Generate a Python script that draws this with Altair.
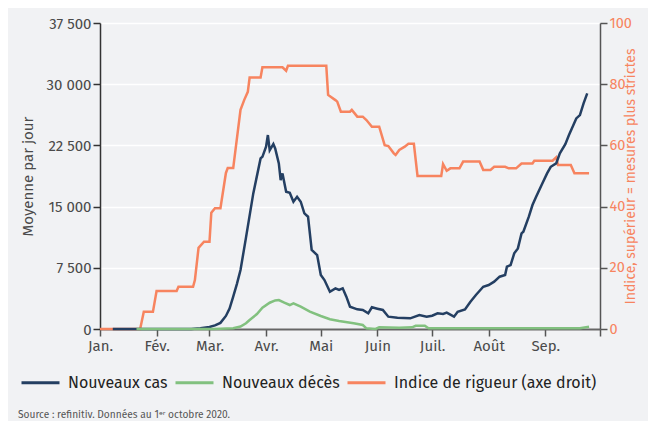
import altair as alt
import pandas as pd

# ---------------- data ----------------
SERIES = ["Nouveaux cas", "Nouveaux décès", "Indice de rigueur (axe droit)"]
COLORS = ["#243f62", "#82c17f", "#f7845f"]
MONTH_LABELS = ["Jan.", "Fév.", "Mar.", "Avr.", "Mai", "Juin", "Juil.", "Août", "Sep.", ""]
LEFT_TICKS = [0, 7500, 15000, 22500, 30000, 37500]
RIGHT_TICKS = [0, 20, 40, 60, 80, 100]
SOURCE = "Source : refinitiv. Données au 1ᵉʳ octobre 2020."

# days since 1 January 2020
cas_days = [7, 50, 55, 60, 63, 66, 69, 71, 73, 75, 77, 80, 84, 88, 89, 91, 92, 93, 95, 96,
            98, 99, 100, 102, 104, 106, 108, 110, 112, 114, 116, 119, 121, 123, 126, 129,
            131, 133, 135, 137, 141, 144, 147, 149, 152, 155, 158, 163, 170, 175, 179, 182,
            185, 188, 190, 194, 196, 200, 203, 206, 210, 213, 216, 219, 222, 223, 225, 227,
            229, 231, 232, 235, 237, 239, 242, 245, 247, 250, 252, 255, 257, 259, 261, 263,
            265, 267]
cas_values = [0, 0, 100, 250, 450, 750, 1600, 2500, 3960, 5500, 7230, 11200, 16620, 20910,
              21100, 22330, 23770, 21900, 22660, 22130, 20300, 18250, 19070, 16820, 16700,
              15600, 16200, 15600, 14170, 13760, 9680, 9065, 6615, 6000, 4570, 4980, 4780,
              4980, 3960, 2730, 2410, 2330, 1920, 2660, 2490, 2330, 1510, 1390, 1310, 1715,
              1510, 1630, 1920, 1840, 2000, 1510, 2120, 2400, 3350, 4165, 5180, 5390, 5800,
              6410, 6615, 7630, 7840, 9270, 9880, 11720, 11920, 13760, 15190, 16200, 17640,
              19070, 19880, 20300, 21520, 22660, 23770, 24780, 25810, 26215, 27650, 28870]

deces_days = [20, 62, 66, 73, 77, 80, 82, 86, 89, 93, 96, 98, 101, 104, 106, 110, 115, 121,
              126, 131, 139, 144, 146, 151, 153, 164, 171, 173, 178, 180, 263, 268]
deces_values = [0, 0, 20, 85, 300, 700, 1100, 1840, 2610, 3220, 3500, 3550, 3220, 2940, 3150,
                2730, 2120, 1590, 1190, 980, 700, 490, 85, 0, 200, 160, 200, 400, 400, 85,
                85, 280]

indice_days = [0, 22, 24, 29, 31, 42, 43, 51, 52, 54, 57, 60, 61, 63, 66, 69, 70, 73, 77, 79,
               81, 82, 88, 89, 100, 102, 103, 124, 125, 129, 130, 132, 137, 138, 141, 144,
               146, 149, 153, 156, 158, 161, 162, 164, 167, 169, 172, 174, 187, 188, 190,
               192, 197, 199, 208, 210, 214, 216, 222, 224, 228, 231, 237, 238, 248, 250,
               251, 258, 260, 268]
indice_values = [0, 0, 5.6, 5.6, 12.4, 12.4, 13.8, 13.8, 16, 26.5, 28.5, 28.5, 38, 39.5, 39.5,
                 51, 52.6, 52.6, 71.6, 74.8, 77.5, 82.2, 82.2, 85.5, 85.5, 84.4, 86, 86, 76.5,
                 74.8, 74.3, 71, 71, 71.6, 69.4, 69.4, 68.3, 66.1, 66.1, 60.1, 59.8, 57.4,
                 56.9, 58.5, 59.6, 60.5, 60.5, 50, 50, 53.9, 51.7, 52.5, 52.5, 54.7, 54.7, 52,
                 52, 53, 53, 52.5, 52.5, 54.1, 54.1, 55, 55, 56.1, 53.6, 53.6, 50.9, 50.9]

START = pd.Timestamp("2020-01-01")


def frame(days, values, name):
    return pd.DataFrame({
        "date": START + pd.to_timedelta(days, unit="D"),
        "valeur": values,
        "serie": name,
    })


left_df = pd.concat([frame(cas_days, cas_values, SERIES[0]),
                     frame(deces_days, deces_values, SERIES[1])], ignore_index=True)
left_df["ordre"] = left_df["serie"].map({SERIES[0]: 0, SERIES[1]: 1})
right_df = frame(indice_days, indice_values, SERIES[2])

FONT = "Fira Sans, Open Sans, Noto Sans, sans-serif"
month_expr = "[" + ",".join("'" + m + "'" for m in MONTH_LABELS) + "][month(datum.value)]"

x_enc = alt.X(
    "date:T",
    scale=alt.Scale(domain=[alt.DateTime(year=2020, month=1, date=1),
                            alt.DateTime(year=2020, month=10, date=1)]),
    axis=alt.Axis(
        values=[alt.DateTime(year=2020, month=m, date=1) for m in range(1, 11)],
        labelExpr=month_expr, title=None, grid=False,
        domainColor="#666666", domainWidth=2, tickColor="#555555", tickWidth=1.5,
        tickSize=7, labelPadding=2, labelFontSize=15, labelColor="#4a4a4a",
        labelFont=FONT, labelFlush=False,
    ),
)

color_enc = alt.Color(
    "serie:N",
    scale=alt.Scale(domain=SERIES, range=COLORS),
    legend=alt.Legend(
        title=None, orient="none", legendX=-80, legendY=339, direction="horizontal",
        symbolType="stroke", symbolSize=1444, symbolStrokeWidth=3,
        labelFontSize=16, labelColor="#222222", labelFont=FONT, labelLimit=400,
        columnPadding=1, labelOffset=7, symbolOffset=0,
    ),
)

indice = alt.Chart(right_df).mark_line(strokeWidth=2.5, interpolate="linear").encode(
    x=x_enc,
    y=alt.Y(
        "valeur:Q",
        scale=alt.Scale(domain=[0, 100], nice=False),
        axis=alt.Axis(
            orient="right", values=RIGHT_TICKS, grid=False,
            title="Indice, supérieur = mesures plus strictes", titleAngle=270,
            titleColor="#f7845f", titleFontSize=14, titleFontWeight="normal",
            titleFont=FONT, titlePadding=2,
            labelColor="#f7845f", labelFontSize=14.5, labelFont=FONT, labelPadding=2,
            domainColor="#555555", domainWidth=1.5, tickColor="#555555", tickWidth=1.5,
            tickSize=7, minExtent=35, maxExtent=35,
        ),
    ),
    color=color_enc,
)

gauche = alt.Chart(left_df).mark_line(strokeWidth=2.5, interpolate="linear").encode(
    x=x_enc,
    y=alt.Y(
        "valeur:Q",
        scale=alt.Scale(domain=[0, 37500], nice=False),
        axis=alt.Axis(
            orient="left", values=LEFT_TICKS,
            labelExpr="replace(format(datum.value, ','), ',', ' ')",
            title="Moyenne par jour", titleColor="#4a4a4a", titleFontSize=15,
            titleFontWeight="normal", titleFont=FONT, titlePadding=5,
            labelColor="#4a4a4a", labelFontSize=15, labelFont=FONT, labelPadding=2,
            grid=True, gridColor="#ffffff", gridWidth=1.5,
            domainColor="#333333", domainWidth=1.5, tickColor="#333333", tickWidth=1.5,
            tickSize=7, minExtent=60, maxExtent=60,
        ),
    ),
    color=color_enc,
    order=alt.Order("ordre:Q"),
)

source = alt.Chart(pd.DataFrame({"t": [SOURCE]})).mark_text(
    align="left", baseline="alphabetic", fontSize=10.2, color="#555555", font=FONT
).encode(text="t:N", x=alt.value(-82), y=alt.value(395))

chart = alt.layer(
    indice, gauche
).resolve_scale(y="independent").properties(width=500, height=306)

chart = alt.layer(chart, source).properties(
    autosize=alt.AutoSizeParams(type="none"),
    padding={"left": 92, "top": 15, "right": 48, "bottom": 92},
    background="#f1f2f4",
).configure_view(stroke=None)

chart.save("out.html", embed_options={"renderer": "svg", "actions": False})
